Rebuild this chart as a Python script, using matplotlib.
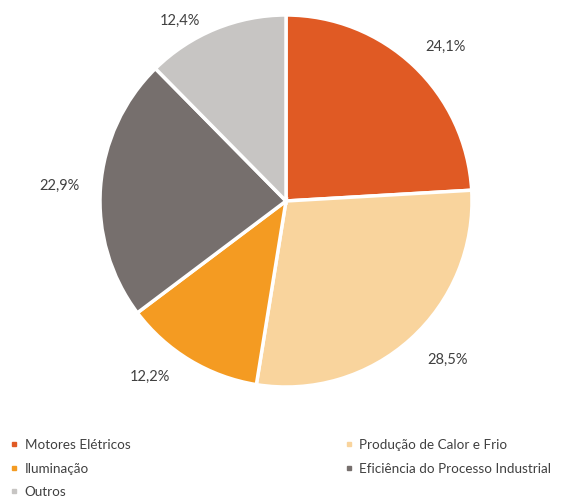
import matplotlib.pyplot as plt
from matplotlib.lines import Line2D

# Dados
categorias = ['Motores Elétricos', 'Produção de Calor e Frio', 'Iluminação',
              'Eficiência do Processo Industrial', 'Outros']
valores = [24.1, 28.5, 12.2, 22.9, 12.4]
cores = ['#E05A24', '#F9D49D', '#F49B22', '#766F6D', '#C7C5C3']
# posição dos rótulos (em raios, relativo ao centro), como no original
pos_rotulos = [(0.86, 0.83), (0.87, -0.855), (-0.73, -0.945),
               (-1.22, 0.08), (-0.57, 0.97)]

plt.rcParams['font.family'] = ['Lato', 'DejaVu Sans']

fig = plt.figure(figsize=(5.67, 4.97), dpi=100)
ax = fig.add_axes([100 / 567, 1 - 387 / 497, 372 / 567, 372 / 497])

wedges, texts, autotexts = ax.pie(
    valores, colors=cores, startangle=90, counterclock=False, radius=1,
    wedgeprops=dict(edgecolor='white', linewidth=2.5),
    autopct=lambda p: f"{p:.1f}%".replace('.', ','), pctdistance=1.2,
    textprops=dict(color='#404040', fontsize=10.5))
for t, p in zip(autotexts, pos_rotulos):
    t.set_position(p)
ax.set_xlim(-1, 1)
ax.set_ylim(-1, 1)
ax.set_aspect('equal')
ax.axis('off')

# Legenda (preenche por coluna)
ordem = [0, 2, 4, 1, 3]
handles = [Line2D([], [], marker='s', linestyle='', markersize=3.5,
                  color=cores[i]) for i in ordem]
leg = fig.legend(handles, [categorias[i] for i in ordem], ncol=2,
                 loc='upper left', bbox_to_anchor=(-0.004, 1 - 427 / 497),
                 frameon=False, fontsize=9.7, handlelength=0.6,
                 handletextpad=0.5, columnspacing=15.9, labelspacing=0.85,
                 labelcolor='#404040')

fig.savefig('out.png', dpi=100)
